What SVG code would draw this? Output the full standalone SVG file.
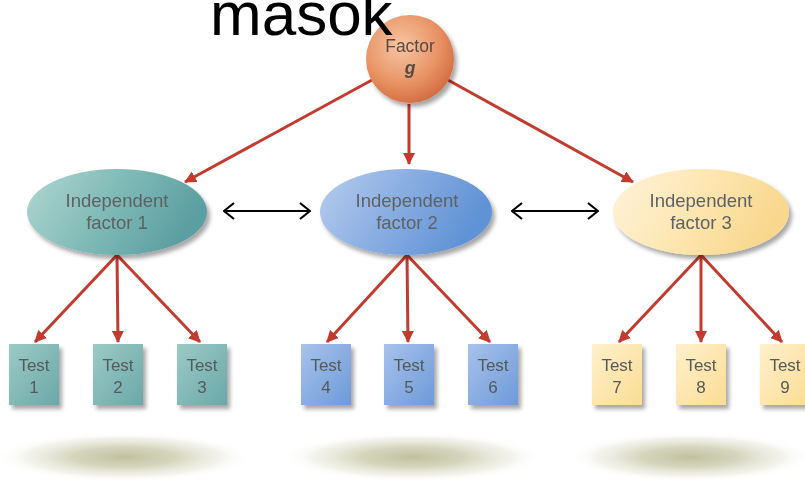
<svg xmlns="http://www.w3.org/2000/svg" width="805" height="485" viewBox="0 0 805 485">
  <defs>
    <radialGradient id="gOrange" cx="0.4" cy="0.35" r="0.7">
      <stop offset="0" stop-color="#f6c6a4"/>
      <stop offset="0.6" stop-color="#e99466"/>
      <stop offset="1" stop-color="#d0693c"/>
    </radialGradient>
    <linearGradient id="gTeal" x1="0" y1="0" x2="1" y2="0.3">
      <stop offset="0" stop-color="#b2d6d2"/>
      <stop offset="0.5" stop-color="#82bcb8"/>
      <stop offset="1" stop-color="#5c9fa2"/>
    </linearGradient>
    <linearGradient id="gBlue" x1="0" y1="0" x2="1" y2="0.3">
      <stop offset="0" stop-color="#b8cdee"/>
      <stop offset="0.5" stop-color="#8aaee2"/>
      <stop offset="1" stop-color="#6092d6"/>
    </linearGradient>
    <linearGradient id="gYellow" x1="0" y1="0" x2="1" y2="0.3">
      <stop offset="0" stop-color="#fff3dc"/>
      <stop offset="0.5" stop-color="#fde7b4"/>
      <stop offset="1" stop-color="#f9d88e"/>
    </linearGradient>
    <linearGradient id="bTeal" x1="0" y1="0" x2="1" y2="1">
      <stop offset="0" stop-color="#9ccac6"/>
      <stop offset="1" stop-color="#6aa8a8"/>
    </linearGradient>
    <linearGradient id="bBlue" x1="0" y1="0" x2="1" y2="1">
      <stop offset="0" stop-color="#a8c2ec"/>
      <stop offset="1" stop-color="#6d9ad8"/>
    </linearGradient>
    <linearGradient id="bYellow" x1="0" y1="0" x2="1" y2="1">
      <stop offset="0" stop-color="#fff0cc"/>
      <stop offset="1" stop-color="#fbdc94"/>
    </linearGradient>
    <radialGradient id="floor" cx="0.5" cy="0.5" r="0.5">
      <stop offset="0" stop-color="#bdbd9a" stop-opacity="0.95"/>
      <stop offset="0.4" stop-color="#cbcbae" stop-opacity="0.8"/>
      <stop offset="0.75" stop-color="#e2e2d2" stop-opacity="0.45"/>
      <stop offset="1" stop-color="#ffffff" stop-opacity="0"/>
    </radialGradient>
    <filter id="drop" x="-20%" y="-20%" width="150%" height="150%">
      <feGaussianBlur in="SourceAlpha" stdDeviation="2"/>
      <feOffset dx="3" dy="4" result="b"/>
      <feComponentTransfer><feFuncA type="linear" slope="0.35"/></feComponentTransfer>
      <feMerge><feMergeNode/><feMergeNode in="SourceGraphic"/></feMerge>
    </filter>
    <marker id="redHead" viewBox="0 0 12 12" refX="11" refY="6" markerWidth="12" markerHeight="12" markerUnits="userSpaceOnUse" orient="auto">
      <path d="M0,0 L12,6 L0,12 Z" fill="#c23b2e"/>
    </marker>
    <marker id="chev" viewBox="0 0 12 18" refX="11" refY="9" markerWidth="12" markerHeight="18" markerUnits="userSpaceOnUse" orient="auto-start-reverse">
      <path d="M1,1 L11,9 L1,17" fill="none" stroke="#000" stroke-width="2.2"/>
    </marker>
    <style>
      .lbl { font-family: "Liberation Sans", Arial, sans-serif; font-size: 18.5px; fill: #5e6264; text-anchor: middle; }
      .fg { font-family: "Liberation Sans", Arial, sans-serif; font-size: 17.5px; fill: #5a4a42; text-anchor: middle; }
      .tst { font-family: "Liberation Sans", Arial, sans-serif; font-size: 17px; fill: #555a5a; text-anchor: middle; }
      .red { stroke: #c23b2e; stroke-width: 3; fill: none; marker-end: url(#redHead); }
      .dbl { stroke: #000; stroke-width: 2; fill: none; marker-start: url(#chev); marker-end: url(#chev); }
    </style>
  </defs>

  <rect width="805" height="485" fill="#ffffff"/>

  <!-- floor shadows -->
  <ellipse cx="124" cy="457" rx="128" ry="25" fill="url(#floor)"/>
  <ellipse cx="413" cy="457" rx="130" ry="25" fill="url(#floor)"/>
  <ellipse cx="690" cy="457" rx="122" ry="25" fill="url(#floor)"/>

  <!-- connectors -->
  <g id="connectors">
    <line class="red" x1="372" y1="80" x2="185" y2="182"/>
    <line class="red" x1="409" y1="104" x2="409" y2="164"/>
    <line class="red" x1="448" y1="80" x2="633" y2="182"/>

    <line class="red" x1="117" y1="255" x2="35" y2="342"/>
    <line class="red" x1="117" y1="255" x2="118" y2="342"/>
    <line class="red" x1="117" y1="255" x2="200" y2="342"/>

    <line class="red" x1="407" y1="255" x2="327" y2="342"/>
    <line class="red" x1="407" y1="255" x2="408" y2="342"/>
    <line class="red" x1="407" y1="255" x2="490" y2="342"/>

    <line class="red" x1="701" y1="255" x2="619" y2="342"/>
    <line class="red" x1="701" y1="255" x2="701" y2="342"/>
    <line class="red" x1="701" y1="255" x2="782" y2="342"/>

    <line class="dbl" x1="224" y1="211" x2="310" y2="211"/>
    <line class="dbl" x1="512" y1="211" x2="598" y2="211"/>
  </g>

  <!-- top factor -->
  <g id="factor-g" filter="url(#drop)">
    <circle cx="410" cy="59" r="44" fill="url(#gOrange)"/>
    <text class="fg" x="410" y="52">Factor</text>
    <text class="fg" x="410" y="74" font-style="italic" font-weight="bold">g</text>
  </g>

  <!-- heading, printed over the top circle -->
  <text x="210" y="35" font-family="Liberation Sans, Arial, sans-serif" font-size="62" fill="#000">masok</text>

  <!-- independent factors -->
  <g id="factor-1" filter="url(#drop)">
    <ellipse cx="117" cy="212" rx="90" ry="43" fill="url(#gTeal)"/>
    <text class="lbl" x="117" y="207">Independent</text>
    <text class="lbl" x="117" y="228.5">factor 1</text>
  </g>
  <g id="factor-2" filter="url(#drop)">
    <ellipse cx="406" cy="212" rx="86" ry="43" fill="url(#gBlue)"/>
    <text class="lbl" x="407" y="207">Independent</text>
    <text class="lbl" x="407" y="228.5">factor 2</text>
  </g>
  <g id="factor-3" filter="url(#drop)">
    <ellipse cx="701" cy="212" rx="88" ry="43" fill="url(#gYellow)"/>
    <text class="lbl" x="701" y="207">Independent</text>
    <text class="lbl" x="701" y="228.5">factor 3</text>
  </g>

  <!-- tests -->
  <g id="test-1" filter="url(#drop)"><rect x="9" y="344" width="50" height="61" fill="url(#bTeal)"/><text class="tst" x="34" y="371">Test</text><text class="tst" x="34" y="393">1</text></g>
  <g id="test-2" filter="url(#drop)"><rect x="93" y="344" width="50" height="61" fill="url(#bTeal)"/><text class="tst" x="118" y="371">Test</text><text class="tst" x="118" y="393">2</text></g>
  <g id="test-3" filter="url(#drop)"><rect x="177" y="344" width="50" height="61" fill="url(#bTeal)"/><text class="tst" x="202" y="371">Test</text><text class="tst" x="202" y="393">3</text></g>

  <g id="test-4" filter="url(#drop)"><rect x="301" y="344" width="50" height="61" fill="url(#bBlue)"/><text class="tst" x="326" y="371">Test</text><text class="tst" x="326" y="393">4</text></g>
  <g id="test-5" filter="url(#drop)"><rect x="384" y="344" width="50" height="61" fill="url(#bBlue)"/><text class="tst" x="409" y="371">Test</text><text class="tst" x="409" y="393">5</text></g>
  <g id="test-6" filter="url(#drop)"><rect x="468" y="344" width="50" height="61" fill="url(#bBlue)"/><text class="tst" x="493" y="371">Test</text><text class="tst" x="493" y="393">6</text></g>

  <g id="test-7" filter="url(#drop)"><rect x="592" y="344" width="50" height="61" fill="url(#bYellow)"/><text class="tst" x="617" y="371">Test</text><text class="tst" x="617" y="393">7</text></g>
  <g id="test-8" filter="url(#drop)"><rect x="676" y="344" width="50" height="61" fill="url(#bYellow)"/><text class="tst" x="701" y="371">Test</text><text class="tst" x="701" y="393">8</text></g>
  <g id="test-9" filter="url(#drop)"><rect x="760" y="344" width="50" height="61" fill="url(#bYellow)"/><text class="tst" x="785" y="371">Test</text><text class="tst" x="785" y="393">9</text></g>
</svg>
